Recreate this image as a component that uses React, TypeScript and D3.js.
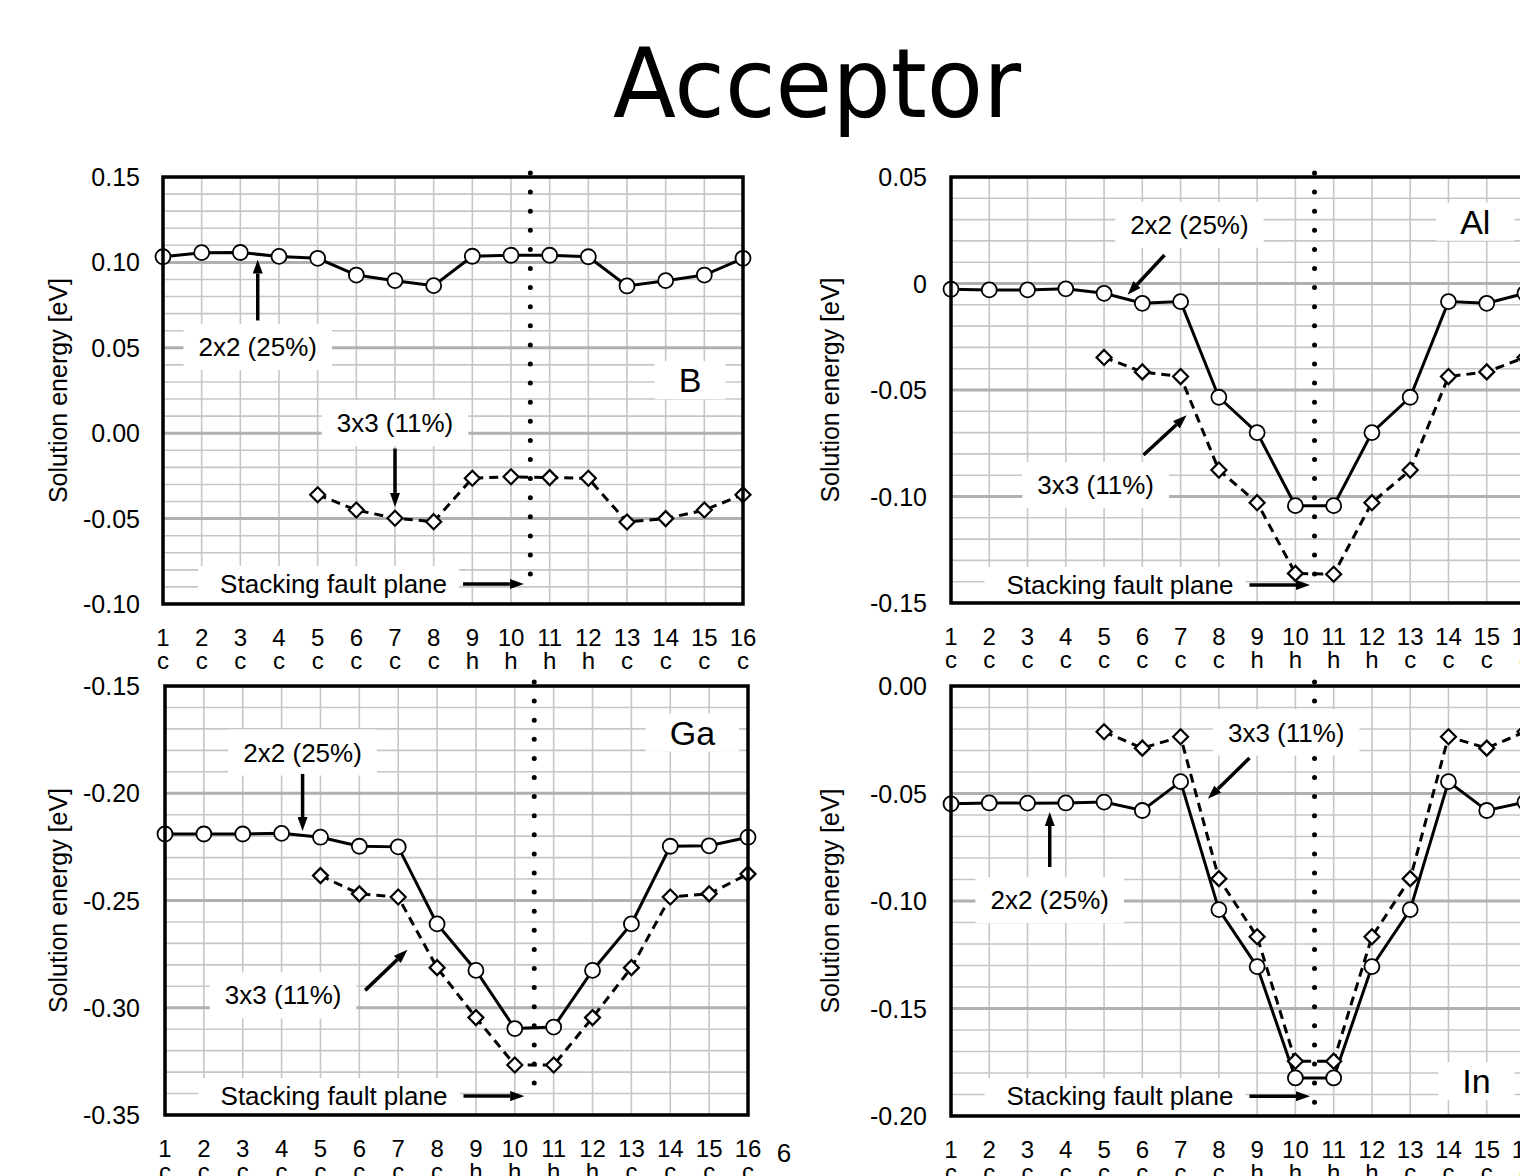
import React from 'react';
import * as d3 from 'd3';

// layer index along the c-axis and stacking type of each layer
const layers = d3.range(1, 17);
const layerTypes = ['c', 'c', 'c', 'c', 'c', 'c', 'c', 'c', 'h', 'h', 'h', 'h', 'c', 'c', 'c', 'c'];

// solution energies [eV], 2x2 (25%) cell for layers 1..16, 3x3 (11%) for layers 5..16
const b2x2 = [0.1033, 0.1057, 0.1058, 0.1035, 0.1024, 0.0926, 0.0893, 0.0864, 0.1036, 0.1042, 0.1042, 0.1033, 0.0862, 0.0893, 0.0926, 0.1024];
const b3x3 = [-0.036, -0.045, -0.0498, -0.0518, -0.0264, -0.0255, -0.026, -0.0264, -0.052, -0.05, -0.045, -0.036];

const al2x2 = [-0.0027, -0.003, -0.003, -0.0025, -0.0046, -0.0093, -0.0085, -0.0534, -0.07, -0.1043, -0.1043, -0.07, -0.0534, -0.0085, -0.0093, -0.0046];
const al3x3 = [-0.0347, -0.0415, -0.0437, -0.0876, -0.1029, -0.1361, -0.1365, -0.1029, -0.0876, -0.0437, -0.0415, -0.0347];

const ga2x2 = [-0.219, -0.219, -0.219, -0.2187, -0.2205, -0.2247, -0.225, -0.2609, -0.2826, -0.3097, -0.309, -0.2826, -0.2609, -0.2247, -0.2245, -0.2205];
const ga3x3 = [-0.2384, -0.2469, -0.2484, -0.2813, -0.3046, -0.3267, -0.3267, -0.3046, -0.2813, -0.2484, -0.2469, -0.2376];

const in2x2 = [-0.0548, -0.0544, -0.0545, -0.0544, -0.054, -0.0579, -0.0445, -0.104, -0.1305, -0.1823, -0.1823, -0.1305, -0.104, -0.0445, -0.0579, -0.054];
const in3x3 = [-0.0213, -0.0289, -0.0236, -0.0896, -0.1166, -0.1745, -0.1745, -0.1166, -0.0896, -0.0236, -0.0289, -0.0213];

// y tick labels per panel (top to bottom)
const bTicks = ['0.15', '0.10', '0.05', '0.00', '-0.05', '-0.10'];
const alTicks = ['0.05', '0', '-0.05', '-0.10', '-0.15'];
const gaTicks = ['-0.15', '-0.20', '-0.25', '-0.30', '-0.35'];
const inTicks = ['0.00', '-0.05', '-0.10', '-0.15', '-0.20'];

const FONT = '"Liberation Sans", Arial, Helvetica, sans-serif';

type Pt = [number, number];
interface Note { text: string; at: Pt; from?: Pt; to?: Pt }
interface PanelCfg {
  name: string;
  nameAt: Pt;
  box: { left: number; right: number; top: number; bottom: number };
  domain: [number, number];
  ticks: string[];
  s2: number[];
  s3: number[];
  notes: Note[];
  fault: { v: number; from: number; to: number };
}

const measureCtx = typeof document !== 'undefined' ? document.createElement('canvas').getContext('2d') : null;
const textWidth = (t: string, size: number) => {
  if (!measureCtx) return t.length * size * 0.5;
  measureCtx.font = `${size}px "Liberation Sans", Arial, sans-serif`;
  return measureCtx.measureText(t).width;
};

const panels: PanelCfg[] = [
  {
    name: 'B', nameAt: [14.63, 0.031],
    box: { left: 163, right: 743, top: 177, bottom: 604 },
    domain: [0.15, -0.1], ticks: bTicks, s2: b2x2, s3: b3x3,
    notes: [
      { text: '2x2 (25%)', at: [3.45, 0.0505], from: [3.45, 0.066], to: [3.45, 0.1005] },
      { text: '3x3 (11%)', at: [7.0, 0.006], from: [7.0, -0.009], to: [7.0, -0.042] },
    ],
    fault: { v: -0.0883, from: 8.76, to: 10.28 },
  },
  {
    name: 'Al', nameAt: [14.7, 0.029],
    box: { left: 951, right: 1525, top: 177, bottom: 603 },
    domain: [0.05, -0.15], ticks: alTicks, s2: al2x2, s3: al3x3,
    notes: [
      { text: '2x2 (25%)', at: [7.23, 0.0275], from: [6.58, 0.0134], to: [5.65, -0.0046] },
      { text: '3x3 (11%)', at: [4.78, -0.0946], from: [6.03, -0.0805], to: [7.12, -0.0625] },
    ],
    fault: { v: -0.1415, from: 8.8, to: 10.33 },
  },
  {
    name: 'Ga', nameAt: [14.57, -0.1717],
    box: { left: 165, right: 748, top: 686, bottom: 1115 },
    domain: [-0.15, -0.35], ticks: gaTicks, s2: ga2x2, s3: ga3x3,
    notes: [
      { text: '2x2 (25%)', at: [4.54, -0.181], from: [4.54, -0.191], to: [4.54, -0.2167] },
      { text: '3x3 (11%)', at: [4.04, -0.2942], from: [6.15, -0.2919], to: [7.2, -0.2736] },
    ],
    fault: { v: -0.3412, from: 8.68, to: 10.19 },
  },
  {
    name: 'In', nameAt: [14.73, -0.1838],
    box: { left: 951, right: 1525, top: 686, bottom: 1116 },
    domain: [0, -0.2], ticks: inTicks, s2: in2x2, s3: in3x3,
    notes: [
      { text: '3x3 (11%)', at: [9.76, -0.0216], from: [8.8, -0.0335], to: [7.75, -0.0518] },
      { text: '2x2 (25%)', at: [3.58, -0.0996], from: [3.58, -0.0842], to: [3.58, -0.0595] },
    ],
    fault: { v: -0.1908, from: 8.8, to: 10.33 },
  },
];

const Panel: React.FC<{ cfg: PanelCfg; idx: number }> = ({ cfg, idx }) => {
  const { box } = cfg;
  const x = d3.scaleLinear().domain([1, 16]).range([box.left, box.right]);
  const y = d3.scaleLinear().domain(cfg.domain).range([box.top, box.bottom]);
  const [hi, lo] = cfg.domain;
  const steps = Math.round((hi - lo) / 0.01);
  const hLines = d3.range(0, steps + 1).map(k => lo + k * 0.01);
  const isMajor = (v: number) => Math.abs(v / 0.05 - Math.round(v / 0.05)) < 1e-6;
  const majors = hLines.filter(isMajor).sort((a, b) => b - a);

  const line2 = d3.line<number>().x((_, i) => x(i + 1)).y(d => y(d));
  const line3 = d3.line<number>().x((_, i) => x(i + 5)).y(d => y(d));

  const leftPanel = box.left < 500;
  const tickX = leftPanel ? 140 : 927;
  const titleX = leftPanel ? 58 : 830;
  const midY = (box.top + box.bottom) / 2;
  const fy = y(cfg.fault.v);
  const faultX = x(10.5);
  const faultText = 'Stacking fault plane';
  const ftw = textWidth(faultText, 26);
  const fTextEnd = x(cfg.fault.from) - 16;
  const nameW = textWidth(cfg.name, 34);
  const d = 7.5;

  return (
    <g>
      <defs>
        <clipPath id={`clip${idx}`}>
          <rect x={box.left} y={box.top} width={box.right - box.left} height={box.bottom - box.top} />
        </clipPath>
      </defs>
      {/* grid */}
      <g clipPath={`url(#clip${idx})`}>
        {layers.map(l => (
          <line key={`v${l}`} x1={x(l)} x2={x(l)} y1={box.top} y2={box.bottom} stroke="#c6c6c6" strokeWidth={1.6} />
        ))}
        {hLines.filter(v => !isMajor(v)).map(v => (
          <line key={`h${v}`} x1={box.left} x2={box.right} y1={y(v)} y2={y(v)} stroke="#c6c6c6" strokeWidth={1.6} />
        ))}
        {hLines.filter(isMajor).map(v => (
          <line key={`m${v}`} x1={box.left} x2={box.right} y1={y(v)} y2={y(v)} stroke="#b0b0b0" strokeWidth={3} />
        ))}
      </g>

      {/* stacking fault plane (dotted), partly hidden by label boxes */}
      <line x1={faultX} x2={faultX} y1={box.top - 4} y2={fy + 6} stroke="#000" strokeWidth={5}
        strokeLinecap="round" strokeDasharray="0 19.1" />

      {/* white label boxes */}
      {cfg.notes.map((n, i) => {
        const w = textWidth(n.text, 26) + 30;
        return <rect key={`nb${i}`} x={x(n.at[0]) - w / 2} y={y(n.at[1]) - 23} width={w} height={46} fill="#fff" />;
      })}
      <rect x={x(cfg.nameAt[0]) - nameW / 2 - 24} y={y(cfg.nameAt[1]) - 19} width={nameW + 48} height={38} fill="#fff" />
      <rect x={fTextEnd - ftw - 22} y={fy - 18} width={ftw + 34} height={box.bottom - fy + 16} fill="#fff" />

      <text x={fTextEnd} y={fy} dy="0.35em" textAnchor="end" fontSize={26} fontFamily={FONT}>{faultText}</text>
      <line x1={x(cfg.fault.from)} x2={x(cfg.fault.to) - 12} y1={fy} y2={fy} stroke="#000" strokeWidth={3.5} markerEnd="url(#arrow)" />

      {/* series */}
      <path d={line3(cfg.s3) ?? ''} fill="none" stroke="#000" strokeWidth={3} strokeDasharray="9 6" />
      <path d={line2(cfg.s2) ?? ''} fill="none" stroke="#000" strokeWidth={3} />
      {cfg.s3.map((v, i) => (
        <path key={`d${i}`} d={`M${x(i + 5)},${y(v) - d}L${x(i + 5) + d},${y(v)}L${x(i + 5)},${y(v) + d}L${x(i + 5) - d},${y(v)}Z`}
          fill="#fff" stroke="#000" strokeWidth={2.2} />
      ))}
      {cfg.s2.map((v, i) => (
        <circle key={`c${i}`} cx={x(i + 1)} cy={y(v)} r={7.5} fill="#fff" stroke="#000" strokeWidth={1.8} />
      ))}

      {/* annotations */}
      {cfg.notes.map((n, i) => (
        <g key={`n${i}`}>
          <text x={x(n.at[0])} y={y(n.at[1])} dy="0.35em" textAnchor="middle" fontSize={26} fontFamily={FONT}>{n.text}</text>
          {n.from && n.to && (() => {
            const x1 = x(n.from[0]), y1 = y(n.from[1]), x2 = x(n.to[0]), y2 = y(n.to[1]);
            const len = Math.hypot(x2 - x1, y2 - y1);
            const ex = x2 - ((x2 - x1) / len) * 12, ey = y2 - ((y2 - y1) / len) * 12;
            return <line x1={x1} y1={y1} x2={ex} y2={ey} stroke="#000" strokeWidth={3.5} markerEnd="url(#arrow)" />;
          })()}
        </g>
      ))}
      <text x={x(cfg.nameAt[0])} y={y(cfg.nameAt[1])} dy="0.36em" textAnchor="middle" fontSize={34} fontFamily={FONT}>{cfg.name}</text>

      {/* frame */}
      <rect x={box.left} y={box.top} width={box.right - box.left} height={box.bottom - box.top} fill="none" stroke="#000" strokeWidth={3.5} />

      {/* axes text */}
      {cfg.ticks.map((t, i) => (
        <text key={`t${i}`} x={tickX} y={y(majors[i])} dy="0.36em" textAnchor="end" fontSize={25} fontFamily={FONT}>{t}</text>
      ))}
      <text transform={`translate(${titleX},${midY}) rotate(-90)`} textAnchor="middle" dy="0.35em" fontSize={25} fontFamily={FONT}>
        Solution energy [eV]
      </text>
      {layers.map((l, i) => (
        <g key={`x${l}`}>
          <text x={x(l)} y={box.bottom + 42} textAnchor="middle" fontSize={24} fontFamily={FONT}>{l}</text>
          <text x={x(l)} y={box.bottom + 65} textAnchor="middle" fontSize={24} fontFamily={FONT}>{layerTypes[i]}</text>
        </g>
      ))}
    </g>
  );
};

export default function App() {
  return (
    <svg width={1520} height={1176} style={{ position: 'fixed', left: 0, top: 0, background: '#fff' }}>
      <defs>
        <marker id="arrow" viewBox="0 0 14 10" refX={0} refY={5} markerWidth={14} markerHeight={10}
          markerUnits="userSpaceOnUse" orient="auto">
          <path d="M0,0L14,5L0,10Z" fill="#000" />
        </marker>
      </defs>
      <rect width={1520} height={1176} fill="#fff" />
      <text x={817} y={117} textAnchor="middle" fontSize={96} textLength={408} lengthAdjust="spacingAndGlyphs"
        fontFamily='"Comic Sans MS", "DejaVu Sans", sans-serif'>Acceptor</text>
      {panels.map((p, i) => <Panel key={p.name} cfg={p} idx={i} />)}
      <text x={784} y={1162} textAnchor="middle" fontSize={26} fontFamily={FONT}>6</text>
    </svg>
  );
}
